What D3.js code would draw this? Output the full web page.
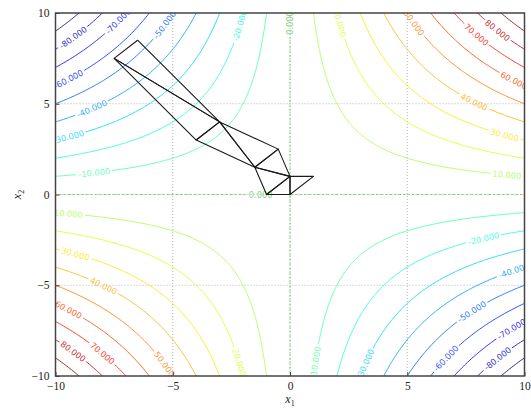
<!DOCTYPE html>
<html><head><meta charset="utf-8">
<script src="https://cdn.jsdelivr.net/npm/d3@7"></script>
<style>body{margin:0;background:#fff}</style>
</head><body><svg id="c" width="531" height="410"></svg>
<script>
// ---------- data ----------
const levels = [-90,-80,-70,-60,-50,-40,-30,-20,-10,0,10,20,30,40,50,60,70,80,90];
const xTicks = [-10,-5,0,5,10];
const yTicks = [-10,-5,0,5,10];
const gridLines = [-5,0,5];
// Nelder-Mead simplex triangles (x1, x2)
const simplexes = [
  [[-7.5,7.5],[-6.5,8.5],[-3,4]],
  [[-7.5,7.5],[-3,4],[-4,3]],
  [[-3,4],[-4,3],[-1.5,1.5]],
  [[-3,4],[-0.5,2.5],[-1.5,1.5]],
  [[-0.5,2.5],[-1.5,1.5],[0,1]],
  [[-1.5,1.5],[0,1],[-1,0]],
  [[0,1],[-1,0],[0,0]],
  [[0,1],[0,0],[1,1]]
];
// contour label spots: level, approx x1, x2
const labelLevels = [-80,-70,-60,-50,-40,-30,-20,-10,0,0,20,50,70,80,60,40,30,10,-20,-40,-50,-70,-60,-80,-10,-30,20,50,70,80,60,40,30,10];
const labelX =      [-9.30,-7.33,-9.51,-5.20,-8.53,-9.51,-2.22,-8.32,0,-1.2,2.13,5.42,8.02,9.08,9.6,7.89,9.13,9.3,8.23,9.51,7.8,9.51,6.61,8.83,0.98,3.07,-2.05,-5.42,-8.02,-9.25,-9.51,-7.97,-9.17,-9.47];
const labelY =      [8.73,9.61,6.47,9.23,4.82,3.44,9.34,1.24,9.5,0.0,9.5,9.5,8.9,9.34,6.41,5.2,3.38,1.29,-2.34,-4.05,-6.53,-7.58,-8.95,-9.01,-9.28,-9.28,-9.17,-9.39,-8.73,-8.73,-6.36,-4.99,-3.22,-1.02];

// ---------- setup ----------
const W = 531, H = 410;
const M = {left:55.5, right:524.5, top:13, bottom:376};
const svg = d3.select("#c");
const x = d3.scaleLinear().domain([-10,10]).range([M.left, M.right]);
const y = d3.scaleLinear().domain([-10,10]).range([M.bottom, M.top]);

// jet colormap
function jetChan(stops, t){ for(let i=1;i<stops.length;i++){ if(t<=stops[i][0]){const a=stops[i-1],b=stops[i];return a[1]+(b[1]-a[1])*(t-a[0])/(b[0]-a[0]);} } return stops[stops.length-1][1]; }
const jR=[[0,0],[0.35,0],[0.66,1],[0.89,1],[1,0.5]];
const jG=[[0,0],[0.125,0],[0.375,1],[0.64,1],[0.91,0],[1,0]];
const jB=[[0,0.5],[0.11,1],[0.34,1],[0.65,0],[1,0]];
function jet(t){ return d3.rgb(255*jetChan(jR,t),255*jetChan(jG,t),255*jetChan(jB,t)).formatHex(); }
const norm = d3.scaleLinear().domain([d3.min(levels), d3.max(levels)]).range([0,1]);
const col = v => jet(norm(v));
const lineCol = v => v===0 ? d3.color(jet(norm(v))).darker(0.6).formatHex() : col(v);

const defs = svg.append("defs");
defs.append("clipPath").attr("id","pc").append("rect")
  .attr("x",M.left).attr("y",M.top).attr("width",M.right-M.left).attr("height",M.bottom-M.top);
const mask = defs.append("mask").attr("id","lm").attr("maskUnits","userSpaceOnUse")
  .attr("x",0).attr("y",0).attr("width",W).attr("height",H);
mask.append("rect").attr("width",W).attr("height",H).attr("fill","#fff");

svg.append("rect").attr("width",W).attr("height",H).attr("fill","#fff");

// grid
const gg = svg.append("g").attr("clip-path","url(#pc)");
gg.selectAll(".gx").data(gridLines).join("line")
  .attr("x1",d=>x(d)).attr("x2",d=>x(d)).attr("y1",M.top).attr("y2",M.bottom)
  .attr("stroke","#b4b4b4").attr("stroke-width",1).attr("stroke-dasharray","1,2");
gg.selectAll(".gy").data(gridLines).join("line")
  .attr("y1",d=>y(d)).attr("y2",d=>y(d)).attr("x1",M.left).attr("x2",M.right)
  .attr("stroke","#b4b4b4").attr("stroke-width",1).attr("stroke-dasharray","1,2");

// field f = x1*x2 on grid
const step = 0.1, g0 = -10.55, n = 212;
const vals = new Array(n*n);
for(let j=0;j<n;j++) for(let i=0;i<n;i++) vals[j*n+i] = (g0+i*step)*(g0+j*step);
const contours = d3.contours().size([n,n]).thresholds(levels)(vals);
const toPx = p => [x(g0+(p[0]-0.5)*step), y(g0+(p[1]-0.5)*step)];
const proj = d3.geoTransform({point(a,b){ const q=toPx([a,b]); this.stream.point(q[0],q[1]); }});
const path = d3.geoPath(proj);

const cg = svg.append("g").attr("clip-path","url(#pc)").append("g").attr("mask","url(#lm)");
cg.selectAll("path").data(contours).join("path")
  .attr("d",path).attr("fill","none")
  .attr("stroke",d=>lineCol(d.value))
  .attr("stroke-opacity",0.82)
  .attr("stroke-width",1)
  .attr("stroke-dasharray",d=>d.value===0?"2.5,2":null);

// labels
const lg = svg.append("g").attr("clip-path","url(#pc)");
labelLevels.forEach((lv,k)=>{
  const c = contours.find(d=>d.value===lv);
  const target = [x(labelX[k]), y(labelY[k])];
  let best=null, bd=Infinity;
  c.coordinates.forEach(poly=>poly.forEach(ring=>{
    const pts = ring.map(toPx);
    for(let i=0;i<pts.length;i++){
      const p=pts[i];
      if(p[0]<M.left-1||p[0]>M.right+1||p[1]<M.top-1||p[1]>M.bottom+1) continue;
      const dd=(p[0]-target[0])**2+(p[1]-target[1])**2;
      if(dd<bd){bd=dd;best={pts,i};}
    }
  }));
  const pts=best.pts, i=best.i, L=pts.length;
  const a=pts[(i-3+L)%L], b=pts[(i+3)%L], p=pts[i];
  let ang=Math.atan2(b[1]-a[1], b[0]-a[0])*180/Math.PI;
  if(ang>90) ang-=180; if(ang<-90) ang+=180;
  const t = lg.append("text").attr("transform",`translate(${p[0]},${p[1]}) rotate(${ang})`)
    .attr("text-anchor","middle").attr("dominant-baseline","central")
    .attr("font-family","DejaVu Sans, sans-serif").attr("font-size",8.3)
    .attr("fill",lineCol(lv)).attr("fill-opacity",0.85).text(d3.format(".3f")(lv).replace("−","-"));
  const w = t.node().getComputedTextLength();
  mask.append("rect").attr("x",-w/2-2).attr("y",-4.5).attr("width",w+4).attr("height",9)
    .attr("fill","#000").attr("transform",`translate(${p[0]},${p[1]}) rotate(${ang})`);
});

// simplex triangles
const line = d3.line().x(d=>x(d[0])).y(d=>y(d[1]));
svg.append("g").attr("clip-path","url(#pc)").selectAll("path").data(simplexes).join("path")
  .attr("d",d=>line(d)+"Z").attr("fill","none").attr("stroke","#1a1a1a").attr("stroke-width",1.1)
  .attr("stroke-linejoin","round");

// axes
const fmt = d => d<0 ? "\u2212"+Math.abs(d) : String(d);
const xa = svg.append("g").attr("transform",`translate(0,${M.bottom})`)
  .call(d3.axisBottom(x).tickValues(xTicks).tickFormat(fmt).tickSizeInner(-4).tickSizeOuter(0).tickPadding(6));
const ya = svg.append("g").attr("transform",`translate(${M.left},0)`)
  .call(d3.axisLeft(y).tickValues(yTicks).tickFormat(fmt).tickSizeInner(-4).tickSizeOuter(0).tickPadding(6));
[xa,ya].forEach(a=>{ a.select(".domain").remove(); a.selectAll("line").attr("stroke","#444");
  a.selectAll("text").attr("font-family","Liberation Serif, serif").attr("font-size",11.5).attr("fill","#222"); });
svg.append("rect").attr("x",M.left).attr("y",M.top).attr("width",M.right-M.left).attr("height",M.bottom-M.top)
  .attr("fill","none").attr("stroke","#444").attr("stroke-width",1.5);

// axis labels
const xl = svg.append("text").attr("x",(M.left+M.right)/2).attr("y",403).attr("text-anchor","middle")
  .attr("font-family","Liberation Serif, serif").attr("font-size",12).attr("fill","#222");
xl.append("tspan").attr("font-style","italic").text("x");
xl.append("tspan").attr("font-size",8).attr("dy",2.5).text("1");
const yl = svg.append("text").attr("transform",`translate(21,${(M.top+M.bottom)/2}) rotate(-90)`).attr("text-anchor","middle")
  .attr("font-family","Liberation Serif, serif").attr("font-size",12).attr("fill","#222");
yl.append("tspan").attr("font-style","italic").text("x");
yl.append("tspan").attr("font-size",8).attr("dy",2.5).text("2");
</script></body></html>
